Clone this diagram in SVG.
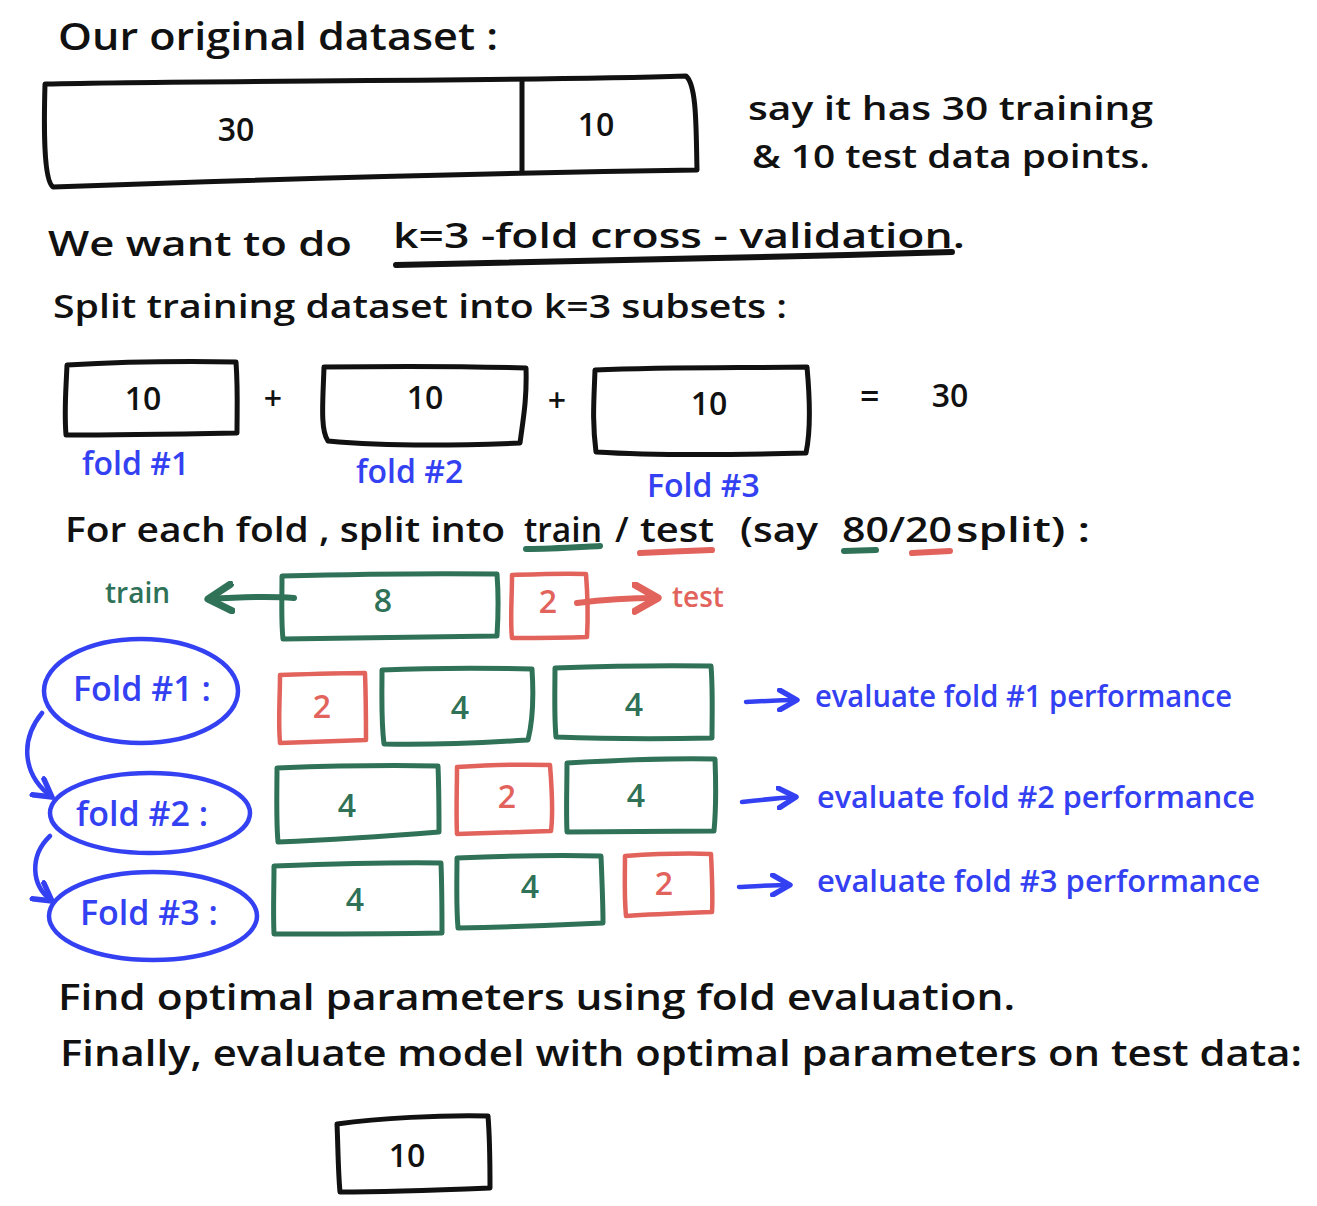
<svg xmlns="http://www.w3.org/2000/svg" width="1317" height="1206" viewBox="0 0 1317 1206">
<defs>
<style>
text{font-family:"Open Sans","Liberation Sans",sans-serif;font-weight:600}
.k{fill:#111}
.g{fill:#2f7257}
.r{fill:#e2625c}
.b{fill:#3441f2}
.num{text-anchor:middle;font-size:32px}
.ln{font-size:35px}
.bx{fill:none;stroke-width:5;stroke-linejoin:round;stroke-linecap:round}
.bk{stroke:#111}
.gs{stroke:#2f7257}
.rs{stroke:#e2625c;stroke-width:4.5}
.bl{fill:none;stroke:#3441f2;stroke-width:4.5;stroke-linecap:round;stroke-linejoin:round}
.ul{fill:none;stroke-width:6;stroke-linecap:round}
</style>
<marker id="ab" viewBox="0 0 10 10" refX="8" refY="5" markerWidth="5.5" markerHeight="5.5" orient="auto"><path d="M1,1 L8,5 L1,9" fill="none" stroke="#3441f2" stroke-width="2.2" stroke-linecap="round" stroke-linejoin="round"/></marker>
<marker id="ag" viewBox="0 0 10 10" refX="8" refY="5" markerWidth="5.5" markerHeight="5.5" orient="auto"><path d="M1,1 L8,5 L1,9" fill="none" stroke="#2f7257" stroke-width="2.2" stroke-linecap="round" stroke-linejoin="round"/></marker>
<marker id="ar" viewBox="0 0 10 10" refX="8" refY="5" markerWidth="5.5" markerHeight="5.5" orient="auto"><path d="M1,1 L8,5 L1,9" fill="none" stroke="#e2625c" stroke-width="2.2" stroke-linecap="round" stroke-linejoin="round"/></marker>
</defs>

<g id="texts">
<text class="k" x="58" y="50" font-size="38" textLength="440" lengthAdjust="spacingAndGlyphs">Our original dataset :</text>
<text class="k" x="748" y="120" font-size="32" textLength="405" lengthAdjust="spacingAndGlyphs">say it has 30 training</text>
<text class="k" x="752" y="168" font-size="32" textLength="398" lengthAdjust="spacingAndGlyphs">&amp; 10 test data points.</text>
<text class="k" x="48" y="256" font-size="34" textLength="304" lengthAdjust="spacingAndGlyphs">We want to do</text>
<text class="k" x="393" y="248" font-size="34" textLength="572" lengthAdjust="spacingAndGlyphs">k=3 -fold cross - validation.</text>
<text class="k" x="53" y="318" font-size="33" textLength="734" lengthAdjust="spacingAndGlyphs">Split training dataset into k=3 subsets :</text>
<text class="k ln" x="65" y="542" textLength="440" lengthAdjust="spacingAndGlyphs">For each fold , split into</text>
<text class="k ln" x="524" y="542" textLength="78" lengthAdjust="spacingAndGlyphs">train</text>
<text class="k ln" x="615" y="542">/</text>
<text class="k ln" x="640" y="542" textLength="74" lengthAdjust="spacingAndGlyphs">test</text>
<text class="k ln" x="740" y="542" textLength="78" lengthAdjust="spacingAndGlyphs">(say</text>
<text class="k ln" x="842" y="542" textLength="110" lengthAdjust="spacingAndGlyphs">80/20</text>
<text class="k ln" x="956" y="542" textLength="134" lengthAdjust="spacingAndGlyphs">split) :</text>
<text class="k" x="58" y="1010" font-size="36" textLength="957" lengthAdjust="spacingAndGlyphs">Find optimal parameters using fold evaluation.</text>
<text class="k" x="60" y="1066" font-size="36" textLength="1242" lengthAdjust="spacingAndGlyphs">Finally, evaluate model with optimal parameters on test data:</text>
</g>

<g id="underlines">
<path class="ul" stroke="#111" d="M396,265 C560,262 760,258 952,252"/>
<path class="ul" stroke="#2f7257" d="M526,549 C550,549 580,547 600,546"/>
<path class="ul" stroke="#e2625c" d="M640,553 C660,552 690,551 712,550"/>
<path class="ul" stroke="#2f7257" d="M844,551 L876,550"/>
<path class="ul" stroke="#e2625c" d="M912,553 L950,551"/>
</g>

<g id="dataset">
<path class="bx bk" d="M45,84 C200,80 500,82 686,76 C697,85 696,130 697,170 C560,172 300,178 53,187 C43,180 44,120 45,84 Z"/>
<path class="bx bk" stroke-width="3.5" d="M522,82 L522,171"/>
<text class="k num" x="236" y="141">30</text>
<text class="k num" x="596" y="136">10</text>
</g>

<g id="fold1">
<path class="bx bk" d="M67,365 C120,362 180,361 236,362 C238,390 237,410 237,433 C180,434 120,435 66,435 C64,410 66,390 67,365 Z"/>
<text class="k num" x="143" y="410">10</text>
<text class="b" x="82" y="475" font-size="32">fold #1</text>
</g>
<text class="k num" x="273" y="410">+</text>
<g id="fold2">
<path class="bx bk" d="M324,367 C400,366 460,366 526,368 C527,400 523,420 520,443 C450,446 380,446 328,441 C320,430 323,400 324,367 Z"/>
<text class="k num" x="425" y="409">10</text>
<text class="b" x="356" y="483" font-size="32">fold #2</text>
</g>
<text class="k num" x="557" y="412">+</text>
<g id="fold3">
<path class="bx bk" d="M595,370 C670,367 740,368 807,367 C810,400 811,430 806,453 C730,455 660,456 596,452 C592,420 594,400 595,370 Z"/>
<text class="k num" x="709" y="415">10</text>
<text class="b" x="647" y="497" font-size="32">Fold #3</text>
</g>
<text class="k" x="860" y="408" font-size="34">=</text>
<text class="k num" x="950" y="407">30</text>

<g id="split">
<path class="bx gs" d="M282,576 C360,574 430,573 497,574 C499,600 498,620 497,636 C420,637 350,638 283,639 C281,620 282,600 282,576 Z"/>
<text class="g num" x="383" y="612">8</text>
<path class="bx rs" d="M512,575 C540,574 565,573 586,574 C588,600 588,620 587,637 C560,638 535,638 512,638 C510,620 512,600 512,575 Z"/>
<text class="r num" x="548" y="613">2</text>
<text class="g" x="105" y="603" font-size="28">train</text>
<text class="r" x="672" y="607" font-size="28">test</text>
</g>

<g id="row1">
<path class="bx rs" d="M280,675 C310,674 340,673 365,673 C366,700 366,720 366,740 C340,741 310,742 280,743 C278,720 280,700 280,675 Z"/>
<text class="r num" x="322" y="718">2</text>
<path class="bx gs" d="M382,670 C430,668 490,668 532,669 C534,700 533,720 528,740 C480,743 430,745 384,744 C381,720 382,700 382,670 Z"/>
<text class="g num" x="460" y="719">4</text>
<path class="bx gs" d="M555,668 C610,666 660,665 711,666 C713,690 712,715 712,738 C660,739 610,739 556,737 C554,715 555,690 555,668 Z"/>
<text class="g num" x="634" y="716">4</text>
</g>

<g id="row2">
<path class="bx gs" d="M277,768 C330,766 390,765 438,766 C439,790 439,815 439,832 C390,836 330,840 278,842 C276,820 277,790 277,768 Z"/>
<text class="g num" x="347" y="817">4</text>
<path class="bx rs" d="M457,767 C490,765 520,764 550,765 C552,790 553,815 551,831 C520,832 490,833 457,834 C456,810 457,790 457,767 Z"/>
<text class="r num" x="507" y="808">2</text>
<path class="bx gs" d="M567,763 C620,760 670,758 715,759 C716,785 716,810 714,831 C670,831 620,832 567,832 C566,810 567,785 567,763 Z"/>
<text class="g num" x="636" y="807">4</text>
</g>

<g id="row3">
<path class="bx gs" d="M274,866 C330,864 390,862 441,863 C442,890 442,915 442,933 C390,934 330,934 274,934 C273,910 274,890 274,866 Z"/>
<text class="g num" x="355" y="911">4</text>
<path class="bx gs" d="M457,858 C505,856 560,855 601,856 C602,880 603,905 603,923 C560,925 505,927 458,928 C456,905 457,880 457,858 Z"/>
<text class="g num" x="530" y="898">4</text>
<path class="bx rs" d="M625,856 C655,854 685,853 711,854 C712,875 713,895 712,912 C685,913 655,914 626,916 C624,895 625,875 625,856 Z"/>
<text class="r num" x="664" y="895">2</text>
</g>

<g id="foldlabels">
<ellipse class="bl" cx="141" cy="691" rx="97" ry="52"/>
<text class="b" x="73" y="701" font-size="34">Fold #1 :</text>
<ellipse class="bl" cx="150" cy="813" rx="100" ry="40"/>
<text class="b" x="76" y="826" font-size="34">fold #2 :</text>
<ellipse class="bl" cx="153" cy="916" rx="104" ry="44"/>
<text class="b" x="80" y="925" font-size="34">Fold #3 :</text>
</g>

<g id="evals">
<text class="b" x="815" y="707" font-size="30" textLength="417" lengthAdjust="spacingAndGlyphs">evaluate fold #1 performance</text>
<text class="b" x="817" y="808" font-size="30" textLength="438" lengthAdjust="spacingAndGlyphs">evaluate fold #2 performance</text>
<text class="b" x="817" y="892" font-size="30" textLength="443" lengthAdjust="spacingAndGlyphs">evaluate fold #3 performance</text>
</g>

<g id="connectors">
<path class="ul" stroke="#2f7257" stroke-width="4" fill="none" marker-end="url(#ag)" d="M294,598 C270,596 240,597 208,599"/>
<path class="ul" stroke="#e2625c" stroke-width="4" fill="none" marker-end="url(#ar)" d="M577,603 C600,600 630,598 658,598"/>
<path class="bl" marker-end="url(#ab)" d="M42,713 C20,740 22,775 52,797"/>
<path class="bl" marker-end="url(#ab)" d="M50,836 C30,855 30,885 52,901"/>
<path class="bl" marker-end="url(#ab)" d="M746,702 C765,701 780,700 797,700"/>
<path class="bl" marker-end="url(#ab)" d="M742,802 C760,800 778,798 796,797"/>
<path class="bl" marker-end="url(#ab)" d="M739,887 C758,886 775,885 790,885"/>
</g>

<g id="testbox">
<path class="bx bk" d="M337,1124 C380,1118 440,1115 488,1116 C490,1140 490,1165 490,1188 C440,1190 390,1192 340,1192 C338,1170 338,1145 337,1124 Z"/>
<text class="k num" x="407" y="1167">10</text>
</g>
</svg>
